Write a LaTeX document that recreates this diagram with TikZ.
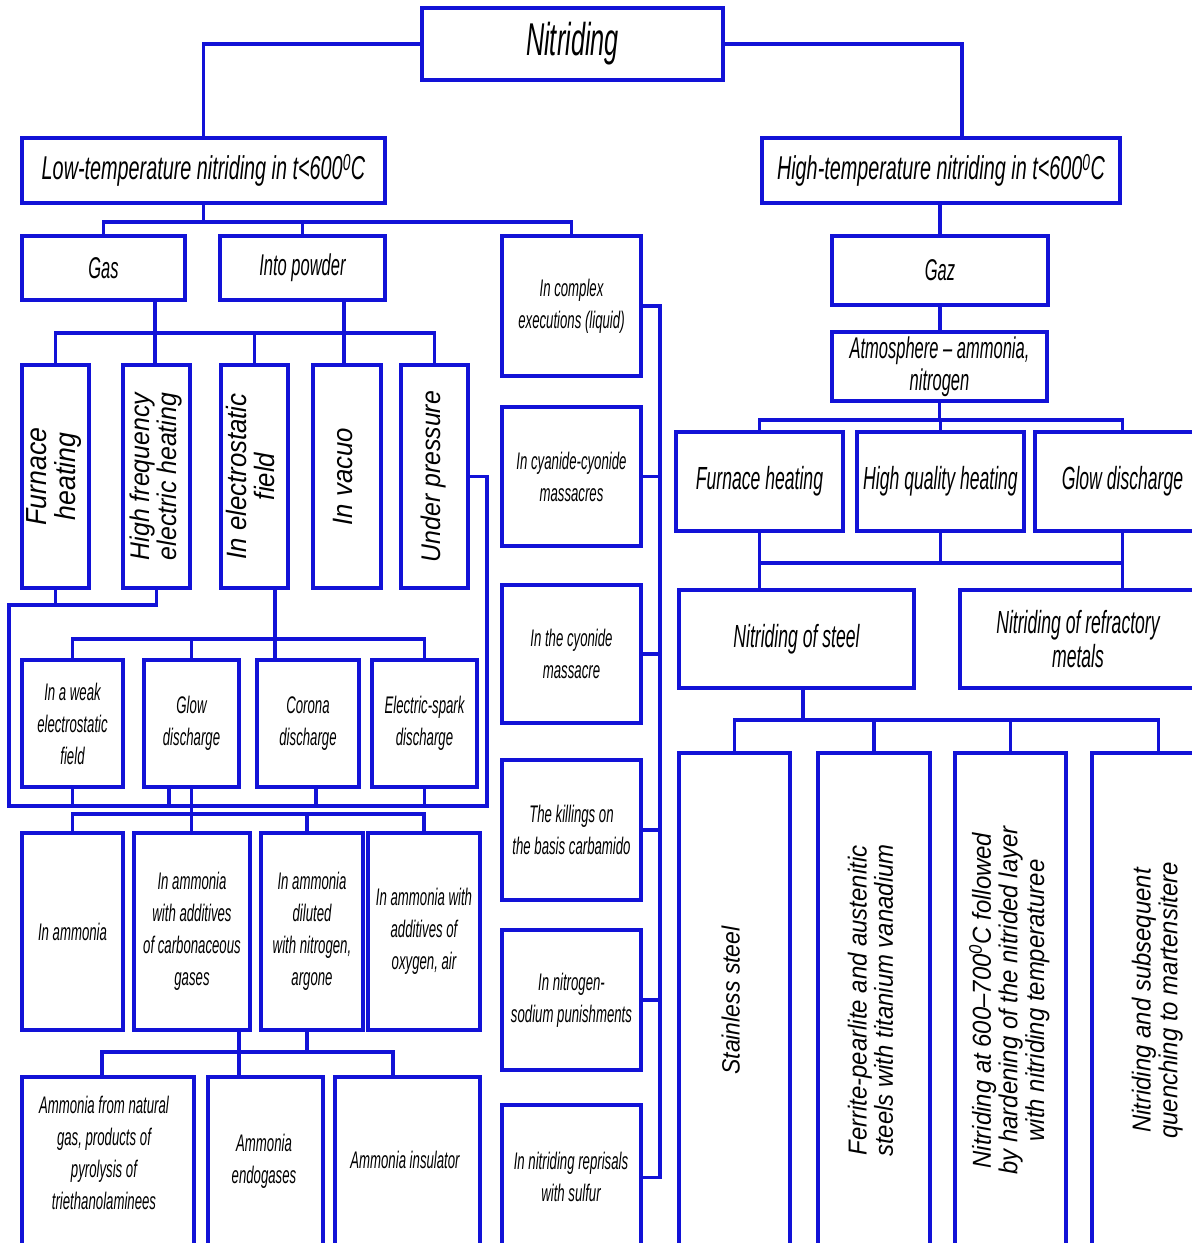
\documentclass[tikz,border=0pt]{standalone}
\usepackage{graphicx}
\usepackage{fontspec}
\newfontfamily\gost{Liberation Sans}[FakeStretch=0.55]
\newfontfamily\gostm{Liberation Sans}[FakeStretch=0.6]
\newfontfamily\gostw{Liberation Sans}[FakeStretch=0.92]
\definecolor{lineblue}{RGB}{18,18,215}
\newcommand\fsz[2]{\fontsize{#1}{#2}\selectfont}
\newcommand\rotx[3]{\rotatebox{90}{\gostw\itshape\fsz{#1}{#2}\begin{tabular}{@{}c@{}}#3\end{tabular}}}
\newcommand\bx[6][]{\node[box,minimum width={#4-#2},minimum height={#5-#3},#1] (#6) at ({(#2+#4)/2},{(#3+#5)/2})}
\tikzset{
  box/.style={draw=lineblue,line width=3.3pt,outer sep=0pt,inner sep=1pt,align=center,text=black},
  conn/.style={draw=lineblue,line width=3.3pt,line join=miter},
  txt/.style={inner sep=0pt,align=center,text=black},
  tsm/.style={font=\gost\itshape\fsz{24}{32}},
  tmd/.style={font=\gost\itshape\fsz{30}{32}},
  tbg/.style={font=\gost\itshape\fsz{32}{34}},
  thd/.style={font=\gostm\itshape\fsz{33}{34}},
  ttl/.style={font=\gost\itshape\fsz{46}{48}},
}
\begin{document}
\begin{tikzpicture}[x=1pt,y=-1pt]
\useasboundingbox (0,0) rectangle (1192,1243);
\fill[white] (0,0) rectangle (1192,1243);
\clip (0,0) rectangle (1192,1243);

% ---- top levels
\bx[ttl]{422}{8}{723}{80}{nit} {Nitriding};
\bx[thd]{22}{138}{385}{203}{low} {Low-temperature nitriding in t<600\textsuperscript{0}C};
\bx[thd]{762}{138}{1120}{203}{high} {High-temperature nitriding in t<600\textsuperscript{0}C};

% ---- left branch
\bx[tmd]{22}{236}{185}{300}{gas} {Gas};
\bx[tmd]{220}{236}{385}{300}{pow} {Into powder};
\bx[tsm]{502}{236}{641}{376}{cplx} {In complex\\executions (liquid)};

\bx{22}{365}{89}{588}{fh} {\rotx{29}{28}{Furnace\\heating}};
\bx{123}{365}{190}{588}{hf} {\rotx{27}{25}{High frequency\\electric heating}};
\bx{221}{365}{288}{588}{el} {\rotx{28}{27}{In electrostatic\\field}};
\bx{313}{365}{381}{588}{vac} {\rotx{28}{28}{In vacuo}};
\bx{401}{365}{468}{588}{prs} {\rotx{27}{28}{Under pressure}};

\bx[tsm]{502}{407}{641}{546}{cc} {In cyanide-cyonide\\massacres};
\bx[tsm]{502}{585}{641}{723}{cm} {In the cyonide\\massacre};
\bx[tsm]{502}{760}{641}{900}{kil} {The killings on\\the basis carbamido};
\bx[tsm]{502}{930}{641}{1070}{ns} {In nitrogen-\\sodium punishments};
\bx{502}{1105}{641}{1250}{sul} {};
\node[txt,tsm] (sulT) at (571,1177) {In nitriding reprisals\\with sulfur};

\bx[tsm]{22}{660}{123}{787}{weak} {In a weak\\electrostatic\\field};
\bx[tsm]{144}{660}{239}{787}{glow} {Glow\\discharge};
\bx[tsm]{257}{660}{359}{787}{cor} {Corona\\discharge};
\bx[tsm]{372}{660}{477}{787}{spk} {Electric-spark\\discharge};

\bx[tsm]{22}{833}{123}{1030}{am1} {In ammonia};
\bx[tsm]{134}{833}{250}{1030}{am2} {In ammonia\\with additives\\of carbonaceous\\gases};
\bx[tsm]{261}{833}{363}{1030}{am3} {In ammonia\\diluted\\with nitrogen,\\argone};
\bx[tsm]{368}{833}{480}{1030}{am4} {In ammonia with\\additives of\\oxygen, air};

\bx{22}{1077}{194}{1260}{nat} {};
\bx{208}{1077}{323}{1260}{endo} {};
\bx{335}{1077}{480}{1260}{ins} {};
\node[txt,tsm] (natT) at (104,1153) {Ammonia from natural\\gas, products of\\pyrolysis of\\triethanolaminees};
\node[txt,tsm] (endoT) at (264,1161) {Ammonia\\endogases};
\node[txt,tsm] (insT) at (405,1160) {Ammonia insulator};

% ---- right branch
\bx[tmd]{832}{236}{1048}{305}{gaz} {Gaz};
\bx[tmd]{832}{332}{1047}{401}{atm} {Atmosphere – ammonia,\\nitrogen};
\bx[tbg]{676}{432}{843}{531}{rfh} {Furnace heating};
\bx[tbg]{857}{432}{1024}{531}{rhq} {High quality heating};
\bx[tbg]{1035}{432}{1210}{531}{rgl} {Glow discharge};
\bx[tbg]{679}{590}{914}{688}{stl} {Nitriding of steel};
\bx[tbg]{960}{590}{1196}{688}{ref} {Nitriding of refractory\\metals};

\bx{679}{753}{790}{1248}{ss} {\rotx{25}{26}{Stainless steel}};
\bx{818}{753}{930}{1248}{fp} {\rotx{26}{25}{Ferrite-pearlite and austenitic\\steels with titanium vanadium}};
\bx{955}{753}{1066}{1248}{n67} {\rotx{26}{26}{Nitriding at 600–700\textsuperscript{0}C followed\\by hardening of the nitrided layer\\with nitriding temperaturee}};
\bx{1092}{753}{1225}{1248}{nq} {\rotx{26}{26}{Nitriding and subsequent\\quenching to martensitere}};

% ---- bus coordinates
\coordinate (lbus) at (0,222);
\coordinate (gbus) at (0,333);
\coordinate (cbus) at (660,0);
\coordinate (ebus) at (0,639);
\coordinate (loopA) at (9,605);
\coordinate (loopB) at (487,806);
\coordinate (mbus) at (0,814);
\coordinate (nbus) at (0,1052);
\coordinate (abus) at (0,420);
\coordinate (hbus) at (0,563);
\coordinate (sbus) at (0,720);

% ---- connectors: top
\draw[conn] (nit.west) -| (low.north);
\draw[conn] (nit.east) -| (high.north -| 962,0);

% low-temperature bus
\draw[conn] (low.south) -- (low.south |- lbus);
\draw[conn] (gas.north) |- (cplx.north |- lbus) -- (cplx.north);
\draw[conn] (pow.north) -- (pow.north |- lbus);

% gas / powder bus
\draw[conn] (gas.south -| 155,0) -- (hf.north -| 155,0);
\draw[conn] (pow.south -| 344,0) -- (vac.north -| 344,0);
\draw[conn] (fh.north) |- (prs.north |- gbus) -- (prs.north);
\draw[conn] (el.north) -- (el.north |- gbus);

% liquid column
\draw[conn] (cplx.east) -| (sul.east -| cbus) -- (sul.east);
\foreach \n in {cc,cm,kil,ns} \draw[conn] (\n.east) -- (\n.east -| cbus);

% electrostatic bus
\draw[conn] (el.south -| 275,0) -- (cor.north -| 275,0);
\draw[conn] (weak.north) |- (spk.north |- ebus) -- (spk.north);
\draw[conn] (glow.north) -- (glow.north |- ebus);

% outer loop
\draw[conn] (hf.south) |- (loopA) |- (loopB) |- (prs.east);
\draw[conn] (fh.south) -- (fh.south |- loopA);
\draw[conn] (weak.south) -- (weak.south |- loopB);
\draw[conn] (glow.south -| 169,0) -- (loopB -| 169,0);
\draw[conn] (cor.south -| 316,0) -- (loopB -| 316,0);
\draw[conn] (spk.south) -- (spk.south |- loopB);

% ammonia bus
\draw[conn] (glow.south) -- (glow.south |- am2.north);
\draw[conn] (am1.north) |- (am4.north |- mbus) -- (am4.north);
\draw[conn] (am3.north -| 307,0) -- (mbus -| 307,0);

% bottom bus
\draw[conn] (am2.south -| 239,0) -- (endo.north -| 239,0);
\draw[conn] (am3.south -| 307,0) -- (nbus -| 307,0);
\draw[conn] (nat.north -| 102,0) |- (nbus -| 393,0) -- (ins.north -| 393,0);

% right side
\draw[conn] (high.south -| gaz.north) -- (gaz.north);
\draw[conn] (gaz.south) -- (gaz.south |- atm.north);
\draw[conn] (atm.south) -- (atm.south |- abus);
\draw[conn] (rfh.north) |- (rgl.north |- abus) -- (rgl.north);
\draw[conn] (rhq.north) -- (rhq.north |- abus);
\draw[conn] (rfh.south) -- (rfh.south |- stl.north);
\draw[conn] (rgl.south) -- (rgl.south |- ref.north);
\draw[conn] (rfh.south |- hbus) -- (rgl.south |- hbus);
\draw[conn] (rhq.south) -- (rhq.south |- hbus);
\draw[conn] (stl.south -| 803,0) -- (sbus -| 803,0);
\draw[conn] (ss.north) |- (nq.north |- sbus) -- (nq.north);
\draw[conn] (fp.north) -- (fp.north |- sbus);
\draw[conn] (n67.north) -- (n67.north |- sbus);
\end{tikzpicture}
\end{document}
